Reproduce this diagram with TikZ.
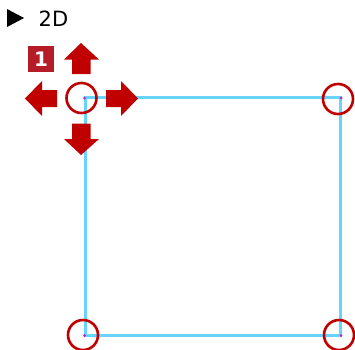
\documentclass[tikz,border=0pt]{standalone}
\usepackage{fontspec}
\setmainfont{DejaVu Sans}
\definecolor{arrowred}{HTML}{C00000}
\definecolor{badgered}{HTML}{B51C28}
\definecolor{squareblue}{HTML}{66D4FF}
\definecolor{dotmag}{HTML}{C020C0}
\tikzset{
  cornerring/.style={circle,draw=arrowred,line width=2.6pt,minimum size=30pt,inner sep=0pt},
  squareline/.style={fill=squareblue,draw=none},
  cornerdot/.style={fill=dotmag},
  bigarrow/.style={fill=arrowred,draw=none},
}
\begin{document}
\begin{tikzpicture}[x=1pt,y=1pt]
\useasboundingbox (0,-349) rectangle (355,0);
\coordinate (pa) at (85.5,-97.5);
\coordinate (pb) at (340.7,-97.5);
\coordinate (pc) at (85.5,-335.5);
\coordinate (pd) at (340.7,-335.5);
\fill[squareline] ([shift={(-1.3,1.3)}]pa) rectangle ([shift={(1.3,-1.3)}]pb);
\fill[squareline] ([shift={(-1.3,1.3)}]pb) rectangle ([shift={(1.3,-1.3)}]pd);
\fill[squareline] ([shift={(-1.3,1.3)}]pc) rectangle ([shift={(1.3,-1.3)}]pd);
\fill[squareline] ([shift={(-1.3,1.3)}]pa) rectangle ([shift={(1.3,-1.3)}]pc);
\foreach \p in {(84.5,-98),(341,-98),(84.5,-335.5),(341,-335.5)} \fill[cornerdot] \p circle (1.5pt);
\begin{scope}
\clip (0,-349) rectangle (355,0);
\node[cornerring] (h1) at (81.5,-98) {};
\node[cornerring] (h2) at (338,-99) {};
\node[cornerring] (h3) at (83,-335) {};
\node[cornerring] (h4) at (339,-335) {};
\end{scope}
\fill[bigarrow] (81,-43) -- (99,-59.5) -- (90.5,-59.5) -- (90.5,-74) -- (72,-74) -- (72,-59.5) -- (64,-59.5) -- cycle;
\fill[bigarrow] (81,-155) -- (99,-139) -- (90.5,-139) -- (90.5,-123.5) -- (72,-123.5) -- (72,-139) -- (64,-139) -- cycle;
\fill[bigarrow] (25,-98.5) -- (42,-81) -- (42,-90) -- (57,-90) -- (57,-107) -- (42,-107) -- (42,-116) -- cycle;
\fill[bigarrow] (138,-98.5) -- (121,-81) -- (121,-90) -- (106,-90) -- (106,-107) -- (121,-107) -- (121,-116) -- cycle;
\node[fill=badgered,text=white,minimum size=26pt,inner sep=0pt,font=\fontsize{20}{20}\selectfont\bfseries] (badge) at (41,-59) {1};
\fill[black] (7,-9) -- (24,-18) -- (7,-27) -- cycle;
\node[anchor=base west,inner sep=0pt,font=\fontsize{21}{21}\selectfont] (title) at (38.5,-26) {2D};
\end{tikzpicture}
\end{document}
